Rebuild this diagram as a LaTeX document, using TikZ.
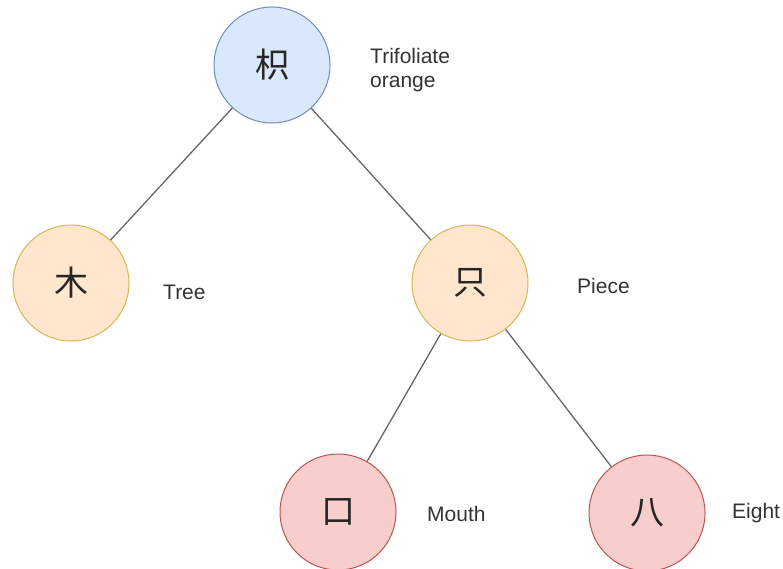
\documentclass[tikz,border=0pt]{standalone}
\usepackage{fontspec}
\setmainfont{Liberation Sans}
\newfontfamily\cjkfont{Noto Sans CJK SC}
\usetikzlibrary{positioning}
\definecolor{cBlueFill}{HTML}{DAE8FC}
\definecolor{cBlueLine}{HTML}{6C8EBF}
\definecolor{cOrangeFill}{HTML}{FFE6CC}
\definecolor{cOrangeLine}{HTML}{D6B656}
\definecolor{cRedFill}{HTML}{F8CECC}
\definecolor{cRedLine}{HTML}{B85450}
\tikzset{
	charnode/.style={circle, minimum size=116pt, inner sep=0pt, line width=1pt, text=black!85, font=\cjkfont\fontsize{34}{34}\selectfont},
	rootnode/.style={charnode, draw=cBlueLine, fill=cBlueFill},
	midnode/.style ={charnode, draw=cOrangeLine, fill=cOrangeFill},
	leafnode/.style={charnode, draw=cRedLine, fill=cRedFill},
	meaning/.style ={anchor=base west, inner sep=0pt, align=left, text=black!80, font=\fontsize{21}{24}\selectfont},
	branch/.style  ={draw=black!60, line width=1.3pt},
}

\begin{document}
\begin{tikzpicture}[x=1pt, y=-1pt]
	\useasboundingbox (0,0) rectangle (783,568);
	% character nodes
	\node[rootnode] (zhi)  at (272,65)  {枳};
	\node[midnode]  (mu)   at (71,283)  {木};
	\node[midnode]  (zhii) at (470,283) {只};
	\node[leafnode] (kou)  at (338,512) {口};
	\node[leafnode] (ba)   at (647,513) {八};
	% branches
	\draw[branch] (zhi) -- (mu);
	\draw[branch] (zhi) -- (zhii);
	\draw[branch] (zhii) -- (kou);
	\draw[branch] (zhii) -- (ba);
	% meanings (base = last line)
	\node[meaning] (tZhi)  at (370,87)  {Trifoliate\\orange};
	\node[meaning] (tMu)   at (163,299) {Tree};
	\node[meaning] (tZhii) at (577,293) {Piece};
	\node[meaning] (tKou)  at (427,521) {Mouth};
	\node[meaning] (tBa)   at (732,518) {Eight};
\end{tikzpicture}
\end{document}
